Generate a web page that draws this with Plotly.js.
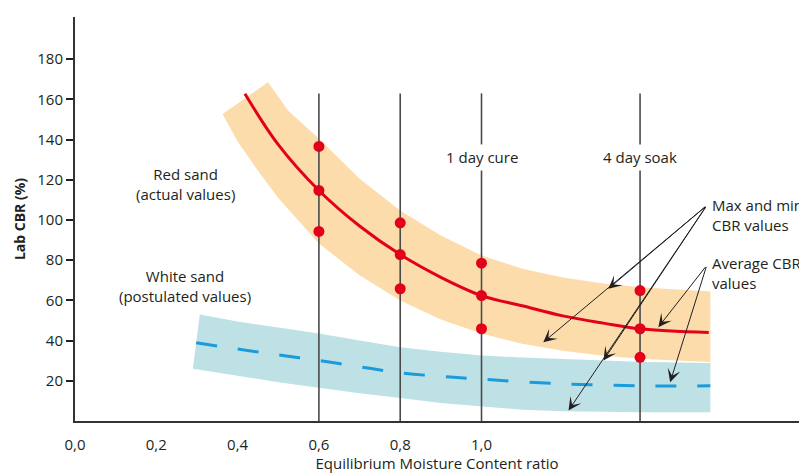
<!DOCTYPE html>
<html>
<head>
<meta charset="utf-8">
<script src="https://cdn.plot.ly/plotly-3.0.1.min.js"></script>
<style>
  html, body { margin: 0; padding: 0; background: #fff; }
  #chart { width: 799px; height: 473px; }
</style>
</head>
<body>
<div id="chart"></div>
<script>
// Test stages (equilibrium moisture content ratio) and measured lab CBR (%)
const stages = [0.6, 0.8, 1.0, 1.39];
const maxCBR = [136.6, 98.6, 78.5, 64.9];
const avgCBR = [114.7, 82.8, 62.4, 45.9];
const minCBR = [94.3, 65.8, 45.9, 31.7];

// Red sand: trend of average CBR
const redTrendX = [0.418, 0.5, 0.6, 0.7, 0.8, 0.9, 1.0, 1.1, 1.2, 1.3, 1.39, 1.559];
const redTrendY = [162.8, 137.5, 114.7, 97.0, 82.8, 71.5, 62.4, 57.3, 52.3, 48.7, 45.9, 44.0];

// Red sand: envelope of max / min CBR
const redUpperX = [0.475, 0.524, 0.6, 0.7, 0.8, 0.9, 1.0, 1.1, 1.2, 1.3, 1.4, 1.563];
const redUpperY = [168.5, 154.5, 140.5, 120.5, 104.7, 92.3, 82.3, 75.8, 71.4, 68.4, 66.4, 64.4];
const redLowerX = [0.363, 0.4, 0.45, 0.5, 0.6, 0.7, 0.8, 0.9, 1.0, 1.1, 1.2, 1.3, 1.4, 1.563];
const redLowerY = [152.8, 139.0, 124.5, 111.0, 88.3, 72.5, 60.0, 50.5, 43.5, 38.4, 35.0, 32.5, 30.8, 29.3];

// White sand (postulated): trend and envelope
const whiteTrendX = [0.298, 0.4, 0.5, 0.6, 0.7, 0.8, 0.9, 1.0, 1.2, 1.4, 1.563];
const whiteTrendY = [38.9, 35.8, 32.9, 30.1, 27.0, 24.0, 22.2, 20.8, 18.5, 17.5, 17.5];
const whiteUpperX = [0.307, 0.4, 0.5, 0.6, 0.7, 0.8, 0.9, 1.0, 1.1, 1.2, 1.3, 1.4, 1.563];
const whiteUpperY = [53.0, 49.5, 46.5, 43.5, 40.0, 36.7, 34.5, 32.6, 31.6, 30.8, 30.0, 29.3, 28.8];
const whiteLowerX = [0.29, 0.4, 0.5, 0.6, 0.7, 0.8, 0.9, 1.0, 1.1, 1.2, 1.3, 1.4, 1.563];
const whiteLowerY = [26.0, 22.5, 19.3, 16.5, 13.8, 11.5, 9.0, 7.2, 5.6, 4.9, 4.5, 4.3, 4.4];

// Axis ticks
const xTickVals = [0, 0.2, 0.4, 0.6, 0.8, 1.0];
const xTickText = ['0,0', '0,2', '0,4', '0,6', '0,8', '1,0'];
const xTickMarks = [0.2, 0.4].concat(stages);
const yTickVals = [20, 40, 60, 80, 100, 120, 140, 160, 180];

// Stage guide lines: top of line, and the label gap on labelled stages
const guideTop = 163;
const stageLabels = [[1.0, '1 day cure'], [1.39, '4 day soak']];
const labelGap = [124.6, 137.6];
const labelY = 131.3;

const INK = '#231f20';
const RED = '#e2001a';
const BLUE = '#1a9bdc';

function band(ux, uy, lx, ly) {
  return {
    x: ux.concat(lx.slice().reverse()),
    y: uy.concat(ly.slice().reverse())
  };
}

const whiteBand = band(whiteUpperX, whiteUpperY, whiteLowerX, whiteLowerY);
const redBand = band(redUpperX, redUpperY, redLowerX, redLowerY);

// Vertical guide lines, broken where a stage label sits
const labelled = stageLabels.map(d => d[0]);
const gx = [], gy = [];
stages.forEach(s => {
  if (labelled.indexOf(s) >= 0) {
    gx.push(s, s, null, s, s, null);
    gy.push(0, labelGap[0], null, labelGap[1], guideTop, null);
  } else {
    gx.push(s, s, null);
    gy.push(0, guideTop, null);
  }
});

const traces = [
  { x: whiteBand.x, y: whiteBand.y, type: 'scatter', mode: 'lines', fill: 'toself',
    fillcolor: '#bee1e5', line: {width: 0}, hoverinfo: 'skip' },
  { x: redBand.x, y: redBand.y, type: 'scatter', mode: 'lines', fill: 'toself',
    fillcolor: '#fcdcab', line: {width: 0}, hoverinfo: 'skip' },
  { x: gx, y: gy, type: 'scatter', mode: 'lines',
    line: {color: '#4a4a4a', width: 1.6}, hoverinfo: 'skip' },
  { x: whiteTrendX, y: whiteTrendY, type: 'scatter', mode: 'lines',
    line: {color: BLUE, width: 3, dash: '21px,21px', shape: 'spline'} },
  { x: redTrendX, y: redTrendY, type: 'scatter', mode: 'lines',
    line: {color: RED, width: 3, shape: 'spline'} },
  { x: stages.concat(stages, stages), y: maxCBR.concat(avgCBR, minCBR),
    type: 'scatter', mode: 'markers',
    marker: {color: RED, size: 11, line: {width: 0}} }
];

const annotations = [];

function note(x, y, text, align) {
  annotations.push({
    x: x, y: y, xref: 'x', yref: 'y', text: text, showarrow: false,
    xanchor: align || 'center', yanchor: 'middle', align: align || 'center',
    font: {family: 'Open Sans', size: 15, color: INK}
  });
}

note(0.271, 117.8, 'Red sand<br>(actual values)');
note(0.271, 67.4, 'White sand<br>(postulated values)');
stageLabels.forEach(d => note(d[0], labelY, d[1]));
note(1.562, 102.5, 'Max and min<br>CBR values', 'left');
note(1.562, 73.7, 'Average CBR<br>values', 'left');

function arrow(fromX, fromY, toX, toY) {
  annotations.push({
    x: toX, y: toY, ax: fromX, ay: fromY, xref: 'x', yref: 'y', axref: 'x', ayref: 'y',
    text: '', showarrow: true, arrowhead: 3, arrowsize: 2.2, arrowwidth: 1,
    arrowcolor: INK, standoff: 0, startstandoff: 0
  });
}

// Pointers from the callout texts
const maxMinFrom = [1.554, 107.2];
const maxMinTo = [[1.312, 65.8], [1.152, 39.2], [1.300, 30.1], [1.214, 5.2]];
const avgFrom = [1.554, 77.4];
const avgTo = [[1.435, 46.7], [1.464, 19.3]];
maxMinTo.forEach(p => arrow(maxMinFrom[0], maxMinFrom[1], p[0], p[1]));
avgTo.forEach(p => arrow(avgFrom[0], avgFrom[1], p[0], p[1]));

const xRange = [0, 1.781];

const layout = {
  width: 799, height: 473,
  margin: {l: 75, r: 0, t: 17, b: 52, pad: 0},
  paper_bgcolor: '#ffffff', plot_bgcolor: '#ffffff',
  showlegend: false,
  font: {family: 'Open Sans', size: 15, color: INK},
  xaxis: {
    range: xRange, tickmode: 'array', tickvals: xTickVals, ticktext: xTickText,
    ticks: 'outside', ticklen: 9, tickcolor: 'rgba(0,0,0,0)',
    showline: true, linecolor: '#333333', linewidth: 2,
    showgrid: false, zeroline: false, fixedrange: true,
    tickfont: {family: 'Open Sans', size: 15, color: INK},
    title: {text: 'Equilibrium Moisture Content ratio', standoff: 2,
            font: {family: 'Open Sans', size: 15, color: INK}}
  },
  xaxis2: {
    range: xRange, overlaying: 'x', anchor: 'y', side: 'bottom',
    tickmode: 'array', tickvals: xTickMarks, ticks: 'outside', ticklen: 7,
    tickwidth: 1.6, tickcolor: '#333333', showticklabels: false,
    showline: false, showgrid: false, zeroline: false, fixedrange: true
  },
  yaxis: {
    range: [0, 201], tickmode: 'array', tickvals: yTickVals,
    ticks: 'outside', ticklen: 7, tickwidth: 2, tickcolor: INK,
    showline: true, linecolor: '#333333', linewidth: 2,
    showgrid: false, zeroline: false, fixedrange: true,
    tickfont: {family: 'Open Sans', size: 15, color: INK},
    title: {text: '<b>Lab CBR (%)</b>', standoff: 8,
            font: {family: 'Open Sans', size: 14, color: INK}}
  },
  annotations: annotations
};

Plotly.newPlot('chart', traces, layout, {staticPlot: true, displayModeBar: false});
</script>
</body>
</html>
